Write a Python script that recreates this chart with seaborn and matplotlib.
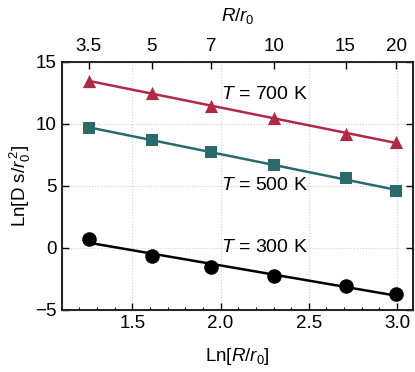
import numpy as np
import pandas as pd
import matplotlib
matplotlib.use("Agg")
import matplotlib.pyplot as plt
import seaborn as sns
from matplotlib.ticker import MultipleLocator

# R/r0 values and ln(D s/r0^2)
r_ratio = [3.5, 5, 7, 10, 15, 20]
ln_d_700 = [13.47, 12.45, 11.4, 10.5, 9.2, 8.5]
ln_d_500 = [9.7, 8.68, 7.7, 6.7, 5.6, 4.58]
ln_d_300 = [0.75, -0.65, -1.55, -2.25, -3.1, -3.7]
temps = ["700", "500", "300"]
label_y = [12.4, 5.0, 0.0]

sns.set_style("ticks")
plt.rcParams['font.family'] = ['Liberation Sans', 'DejaVu Sans']
plt.rcParams['mathtext.fontset'] = 'custom'
plt.rcParams['mathtext.rm'] = 'Liberation Sans'
plt.rcParams['mathtext.it'] = 'Liberation Sans:italic'
plt.rcParams['font.size'] = 13.5
plt.rcParams.update({
    "text.color": "black", "axes.labelcolor": "black",
    "xtick.color": "black", "ytick.color": "black",
    "xtick.direction": "in", "ytick.direction": "in",
    "xtick.minor.visible": True, "ytick.minor.visible": True,
    "xtick.major.size": 5, "ytick.major.size": 5,
    "xtick.minor.size": 2.5, "ytick.minor.size": 2.5,
    "xtick.minor.width": 0.8, "ytick.minor.width": 0.8,
})

x = np.log(r_ratio)
df = pd.DataFrame({
    "x": np.tile(x, 3),
    "y": ln_d_700 + ln_d_500 + ln_d_300,
    "T": np.repeat(temps, len(x)),
})

colors = {"700": "#b02a48", "500": "#2a6a6a", "300": "#000000"}
markers = {"700": "^", "500": "s", "300": "o"}
sizes = {"700": 90, "500": 85, "300": 110}

fig = plt.figure(figsize=(4.15, 3.72), dpi=100)
ax = fig.add_axes([0.149, 0.167, 0.846, 0.667])

for t in temps:
    sub = df[df["T"] == t]
    sns.regplot(data=sub, x="x", y="y", ax=ax, ci=None, color=colors[t],
                marker=markers[t],
                scatter_kws={"s": sizes[t], "zorder": 3, "linewidths": 0, "alpha": 1},
                line_kws={"lw": 1.8})

for t, ly in zip(temps, label_y):
    ax.text(2.0, ly, f"$T$ = {t} K", ha="left", va="center", fontsize=14)

ax.set_xlim(1.1, 3.09)
ax.set_ylim(-5, 15)
ax.xaxis.set_major_locator(MultipleLocator(0.5))
ax.xaxis.set_minor_locator(MultipleLocator(0.1))
ax.yaxis.set_major_locator(MultipleLocator(5))
ax.yaxis.set_minor_locator(MultipleLocator(1))
ax.tick_params(which="both", direction="in", right=True, labelsize=13.5)
ax.tick_params(which="major", length=5, width=1)
ax.tick_params(which="minor", length=2.5, width=0.8)
ax.grid(True, which="major", ls=":", color="#d0d0d0", lw=0.8)
for s in ax.spines.values():
    s.set_linewidth(1.2)
    s.set_color("black")

ax.set_xlabel(r"Ln[$R$/$r_0$]", fontsize=13.5, labelpad=10)
ax.set_ylabel(r"Ln[D s/$r_0^{\,2}$]", fontsize=13.5, labelpad=2)

top = ax.twiny()
top.set_xlim(ax.get_xlim())
top.set_xticks(x)
top.set_xticklabels([f"{r:g}" for r in r_ratio])
top.minorticks_off()
top.grid(False)
top.tick_params(direction="in", length=5, width=1, labelsize=13.5, pad=5)
top.set_xlabel(r"$R$/$r_0$", fontsize=13.5, labelpad=12)

fig.savefig("out.png", dpi=100)
